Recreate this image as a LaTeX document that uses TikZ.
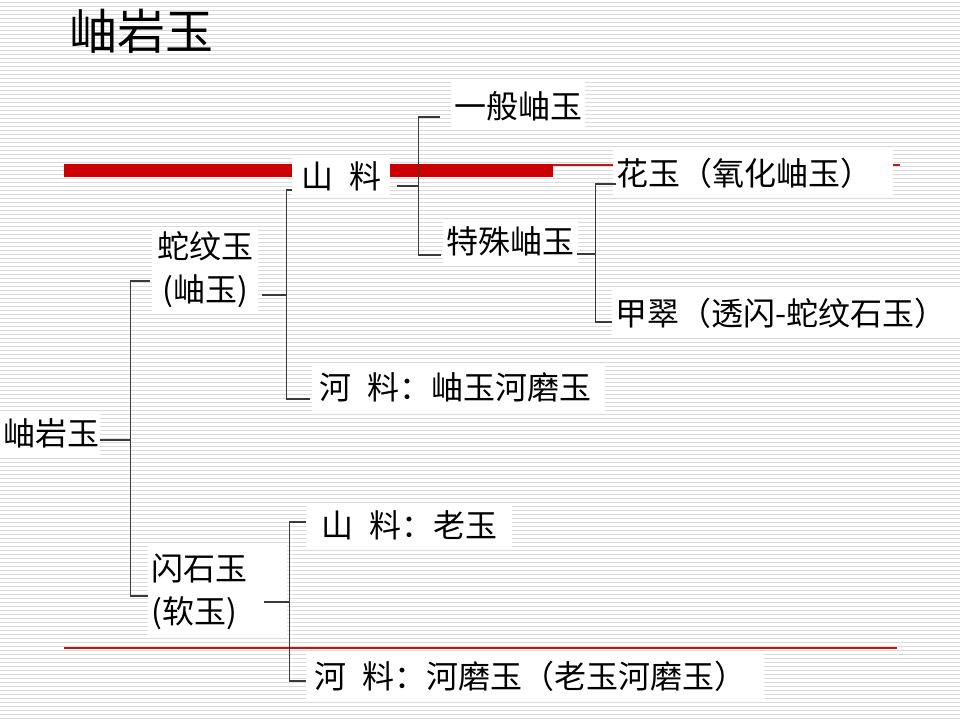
\documentclass[tikz,border=0pt]{standalone}
\usepackage{fontspec}
\usepackage{tikz}
\usetikzlibrary{positioning}
\newfontfamily\cjk{Noto Sans CJK SC}
\definecolor{barred}{HTML}{CC0000}
\definecolor{linered}{HTML}{B81A1A}
\definecolor{stripegray}{HTML}{DADADA}
\definecolor{conngray}{HTML}{3A3A3A}

\begin{document}
\begin{tikzpicture}[x=1pt, y=-1pt]
    % Estilos
    \tikzstyle{box} = [rectangle, fill=white, anchor=north west, inner xsep=3pt, inner ysep=0pt, align=left, font=\cjk\fontsize{32}{43}\selectfont]
    \tikzstyle{conn} = [draw=conngray, line width=1.5pt]
    \tikzstyle{stripe} = [draw=stripegray, line width=1pt]

    % Fundo
    \useasboundingbox (0,0) rectangle (960,720);
    \fill[white] (0,0) rectangle (960,720);
    \foreach \y in {2,6,...,718}
        \draw[stripe] (0,\y) -- (960,\y);
    \fill[barred] (64,164) rectangle (553,177);
    \draw[linered, line width=1.4pt] (553,165) -- (900,165);
    \draw[linered, line width=1.4pt] (64,648) -- (897,648);

    % Titulo
    \node[font=\cjk\fontsize{48}{56}\selectfont, inner sep=0pt] (titulo) at (141,31) {岫岩玉};

    % Nós
    \node[box, text width=94pt, minimum height=43pt] (xiuyan) at (0,412) {岫岩玉};
    \node[box, text width=100pt, minimum height=85pt, align=center] (shewen) at (152,227) {蛇纹玉\\(岫玉)};
    \node[box, text width=133pt, minimum height=93pt] (shanshi) at (148,545) {闪石玉\\(软玉)};
    \node[box, text width=92pt, minimum height=41pt, align=center] (shanliao) at (292,156) {山\hspace{0.5em}料};
    \node[box, text width=287pt, minimum height=49pt] (heliao) at (312,363) {\hspace*{4pt}河\hspace{0.5em}料：岫玉河磨玉};
    \node[box, text width=128pt, minimum height=48pt, align=center] (yiban) at (451,82) {一般岫玉};
    \node[box, text width=129pt, minimum height=43pt, align=center] (teshu) at (443,220) {特殊岫玉};
    \node[box, text width=274pt, minimum height=47pt] (huayu) at (613,150) {花玉（氧化岫玉）};
    \node[box, text width=342pt, minimum height=50pt] (jiacui) at (612,288) {甲翠（透闪-蛇纹石玉）};
    \node[box, text width=200pt, minimum height=43pt] (laoyu) at (306,504) {\hspace*{12pt}山\hspace{0.5em}料：老玉};
    \node[box, text width=452pt, minimum height=47pt] (hemo) at (306,653) {\hspace*{5pt}河\hspace{0.5em}料：河磨玉（老玉河磨玉）};

    % Conexões
    \path[conn] ([yshift=-6.5pt]xiuyan.east) -- ++(30,0) coordinate (j1);
    \path[conn] ([xshift=-2pt, yshift=-11.5pt]shewen.west) -| (j1) |- ([yshift=-4.5pt]shanshi.west);

    \path[conn] ([xshift=4pt, yshift=-25.5pt]shewen.east) -- ++(24,0) coordinate (j2);
    \path[conn] ([yshift=-13.5pt]shanliao.west) -| (j2) |- ([xshift=-2pt, yshift=-11.5pt]heliao.west);

    \path[conn] ([xshift=7pt, yshift=-9.5pt]shanliao.east) -- ++(21,0) coordinate (j3);
    \path[conn] ([xshift=-11pt, yshift=-11pt]yiban.west) -| (j3) |- ([xshift=-2pt, yshift=-13.5pt]teshu.west);

    \path[conn] ([xshift=-1pt, yshift=-12.5pt]teshu.east) -- ++(18,0) coordinate (j4);
    \path[conn] ([xshift=3pt, yshift=-10.5pt]huayu.west) -| (j4) |- ([yshift=-9pt]jiacui.west);

    \path[conn] ([xshift=-23pt, yshift=-10.5pt]shanshi.east) -- ++(25,0) coordinate (j5);
    \path[conn] ([yshift=3.5pt]laoyu.west) -| (j5) |- ([yshift=-4.5pt]hemo.west);
\end{tikzpicture}
\end{document}
